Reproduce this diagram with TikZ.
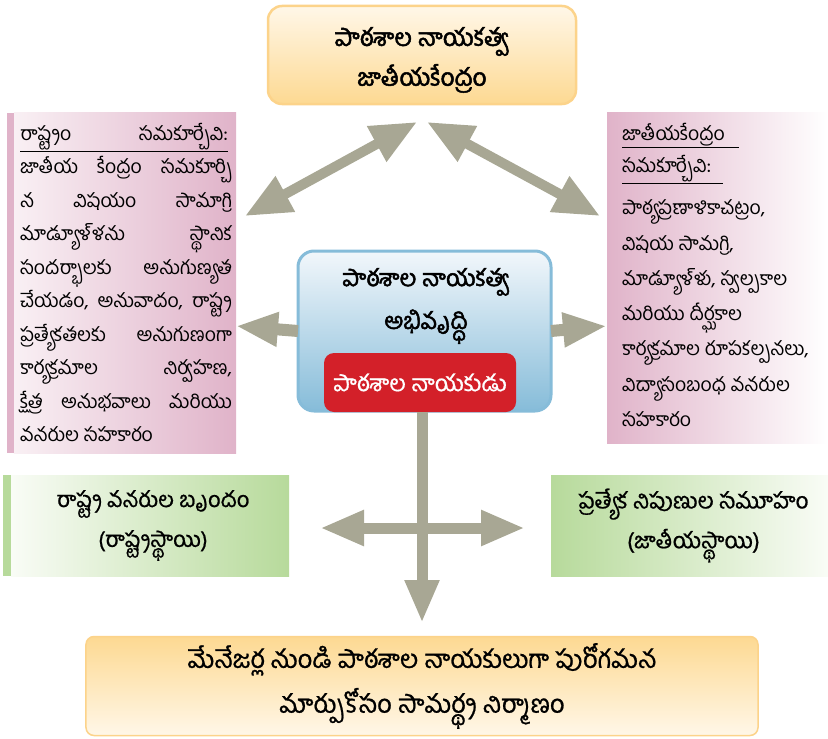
\documentclass[tikz,border=0pt]{standalone}
\usepackage{fontspec}
\setmainfont[Script=Telugu]{Hind Guntur}
\newfontfamily\tebold[Script=Telugu,FakeBold=2]{Hind Guntur}
\newfontfamily\temed[Script=Telugu,FakeBold=0.8]{Hind Guntur}
\usetikzlibrary{arrows.meta}
\definecolor{arrowgray}{HTML}{A8A794}
\definecolor{orangeedge}{HTML}{FCD38A}
\definecolor{orangelight}{HTML}{FFF7E8}
\definecolor{orangemid}{HTML}{FDD992}
\definecolor{pinkdark}{HTML}{E0B3C9}
\definecolor{pinklight}{HTML}{F9F0F4}
\definecolor{bluedark}{HTML}{86BCD9}
\definecolor{bluelight}{HTML}{F2F7FB}
\definecolor{redbox}{HTML}{D32029}
\definecolor{greendark}{HTML}{B7DA9B}
\definecolor{greenlight}{HTML}{F9FCF6}
\tikzset{
  box/.style={inner sep=0pt, outer sep=0pt},
  bigarrow/.style={draw=arrowgray, line width=11bp},
  txt/.style={inner sep=0pt, outer sep=0pt, text=black}
}
\begin{document}
\begin{tikzpicture}[x=1bp,y=-1bp]
\useasboundingbox (0,0) rectangle (828,739);

% top box
\node[box, minimum width=308bp, minimum height=98bp, rounded corners=14bp,
  draw=orangeedge, line width=2.5bp, top color=orangelight, bottom color=orangemid] (top) at (422,55) {};
\node[txt, align=center, font=\tebold\fontsize{24.5}{40}\selectfont] (toptext) at (422,60)
  {పాఠశాల నాయకత్వ\\జాతీయకేంద్రం};

% left pink box
\node[box, minimum width=222bp, minimum height=340bp, left color=pinklight, right color=pinkdark] (lbox) at (125,283) {};
\fill[pinkdark] (7,113) rectangle (14,453);
\node[txt, anchor=north west, text width=212bp, align=justify,
  font=\fontsize{19.5}{33.6}\selectfont] (ltext) at (20,123)
  {\underline{\makebox[208bp][s]{రాష్ట్రం సమకూర్చేవి:}}\linebreak
   జాతీయ కేంద్రం సమకూర్చి\linebreak
   న విషయం సామాగ్రి\linebreak
   మాడ్యూళ్ళను స్థానిక\linebreak
   సందర్భాలకు అనుగుణ్యత\linebreak
   చేయడం, అనువాదం, రాష్ట్ర\linebreak
   ప్రత్యేకతలకు అనుగుణంగా\linebreak
   కార్యక్రమాల నిర్వహణ,\linebreak
   క్షేత్ర అనుభవాలు మరియు\linebreak
   వనరుల సహకారం};

% right pink box
\node[box, minimum width=221bp, minimum height=330bp, left color=pinkdark, right color=white] (rbox) at (717.5,278) {};
\node[txt, anchor=north west, align=left,
  font=\fontsize{19.5}{35.4}\selectfont] (rtext) at (622,123)
  {\underline{జాతీయకేంద్రం\hspace{14bp}}\\[-3bp]
   \underline{సమకూర్చేవి:\hspace{12bp}}\\[7bp]
   పాఠ్యప్రణాళికాచట్రం,\\
   విషయ సామగ్రి,\\
   మాడ్యూళ్ళు, స్వల్పకాల\\
   మరియు దీర్ఘకాల\\
   కార్యక్రమాల రూపకల్పనలు,\\
   విద్యాసంబంధ వనరుల\\
   సహకారం};

% center box
\node[box, minimum width=253bp, minimum height=160bp, rounded corners=16bp,
  draw=bluedark, line width=3bp, top color=bluelight, bottom color=bluedark] (cbox) at (424.5,331) {};
\node[txt, align=center, font=\tebold\fontsize{23.5}{43}\selectfont] (ctext) at (426,306)
  {పాఠశాల నాయకత్వ\\అభివృద్ధి};
\node[box, minimum width=192bp, minimum height=59bp, rounded corners=10bp, fill=redbox,
  text=white, font=\temed\fontsize{23}{26}\selectfont] (red) at (420,382.5) {పాఠశాల నాయకుడు};

% green boxes
\node[box, minimum width=278bp, minimum height=101bp, left color=greenlight, right color=greendark,
  align=center, font=\temed\fontsize{22}{40}\selectfont] (gl) at (150,525.5)
  {\hspace*{6bp}రాష్ట్ర వనరుల బృందం\\\hspace*{6bp}(రాష్ట్రస్థాయి)};
\fill[greendark] (3,475) rectangle (11,576);
\node[box, minimum width=277bp, minimum height=101bp, left color=greendark, right color=greenlight,
  align=center, font=\temed\fontsize{22.5}{40}\selectfont] (gr) at (689.5,525.5)
  {\hspace*{8bp}ప్రత్యేక నిపుణుల సమూహం\\\hspace*{8bp}(జాతీయస్థాయి)};

% bottom box
\node[box, minimum width=672bp, minimum height=99bp, rounded corners=8bp,
  draw=orangeedge, line width=1.5bp, top color=orangemid, bottom color=orangelight,
  align=center, font=\temed\fontsize{25.5}{45}\selectfont] (bot) at (422,686)
  {మేనేజర్ల నుండి పాఠశాల నాయకులుగా పురోగమన\\మార్పుకోసం సామర్థ్య నిర్మాణం};

% arrow end points
\coordinate (tl) at (245,216);
\coordinate (tc1) at (417,122);
\coordinate (tc2) at (427,122);
\coordinate (tr) at (600,216);
\coordinate (la) at (236,326);
\coordinate (ra) at (607,326);
\coordinate (va) at (422,623);
\coordinate (hl) at (320,528);
\coordinate (hr) at (525,528);

\draw[bigarrow, line width=10bp, {Triangle[length=46bp,width=38bp]}-{Triangle[length=46bp,width=38bp]}] (tl) -- (tc1);
\draw[bigarrow, line width=10bp, {Triangle[length=46bp,width=38bp]}-{Triangle[length=46bp,width=38bp]}] (tc2) -- (tr);
\draw[bigarrow, line width=12bp, -{Triangle[length=42bp,width=32bp]}] (cbox.west) -- (la);
\draw[bigarrow, line width=12bp, -{Triangle[length=44bp,width=32bp]}] (cbox.east) -- (ra);
\draw[bigarrow, line width=11bp, -{Triangle[length=43bp,width=32bp]}] (red.south -| va) -- (va);
\draw[bigarrow, line width=11bp, {Triangle[length=44bp,width=33bp]}-{Triangle[length=44bp,width=33bp]}] (hl) -- (hr);
\end{tikzpicture}
\end{document}
